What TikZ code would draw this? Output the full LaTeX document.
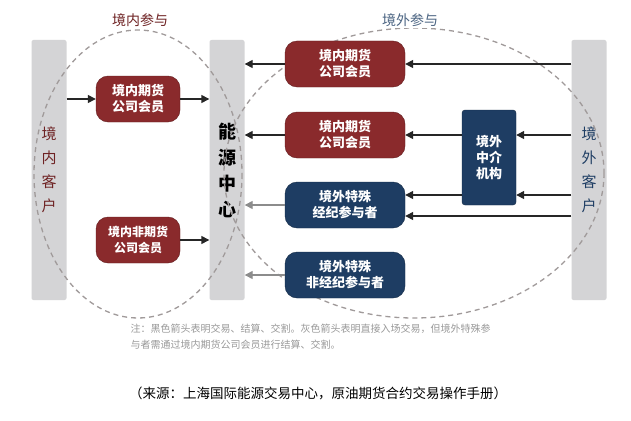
\documentclass[tikz,border=0pt]{standalone}
\usepackage{fontspec}
\setmainfont{Noto Sans CJK SC}
\usetikzlibrary{arrows.meta}
\definecolor{myred}{HTML}{8A2A2C}
\definecolor{myblue}{HTML}{1E3D63}
\definecolor{bargray}{HTML}{D4D4D6}
\definecolor{dashg}{HTML}{A09A9A}
\tikzset{
  bar/.style={fill=bargray,rounded corners=2pt,minimum width=35pt,minimum height=260pt,inner sep=0pt},
  rbox/.style={fill=myred,draw=myred!70!black,rounded corners=12pt,text=white,align=center,font=\fontsize{13}{16}\selectfont\bfseries,minimum width=84pt,minimum height=46pt,inner sep=2pt},
  bbox/.style={rbox,fill=myblue,draw=myblue!70!black},
  blk/.style={-{Triangle[length=8pt,width=8pt]},line width=1.4pt,black!85},
  gry/.style={-{Triangle[length=8pt,width=8pt]},line width=1.4pt,black!45},
  ell/.style={dash pattern=on 5pt off 4pt,draw=dashg,line width=1.3pt}
}
\begin{document}
\begin{tikzpicture}[x=1pt,y=-1pt]
\useasboundingbox (0,0) rectangle (631,420);
\fill[white] (0,0) rectangle (631,420);
\node[bar] (L) at (49,170) {};
\node[bar] (C) at (227,170) {};
\node[bar] (R) at (589,170) {};
\node[text=myred!80!black,align=center,font=\fontsize{15}{24}\selectfont] at (L) {境\\内\\客\\户};
\node[align=center,font=\fontsize{18}{26}\selectfont\bfseries] at (C) {能\\源\\中\\心};
\node[text=myblue,align=center,font=\fontsize{15}{24}\selectfont] at (R) {境\\外\\客\\户};
\draw[ell] (138,174) ellipse (104 and 144);
\draw[ell] (414,173) ellipse (190 and 145);
\node[text=myred!80!black,font=\fontsize{14}{16}\selectfont,fill=white,inner sep=1pt] at (140,20) {境内参与};
\node[text=myblue!80,font=\fontsize{14}{16}\selectfont,fill=white,inner sep=1pt] at (410,20) {境外参与};
\node[rbox] (d1) at (138,99) {境内期货\\公司会员};
\node[rbox,font=\fontsize{12}{16}\selectfont\bfseries] (d2) at (138,240) {境内非期货\\公司会员};
\node[rbox,minimum width=120pt] (f1) at (345,64) {境内期货\\公司会员};
\node[rbox,minimum width=120pt] (f2) at (345,135) {境内期货\\公司会员};
\node[bbox,minimum width=120pt] (f3) at (345,205) {境外特殊\\经纪参与者};
\node[bbox,minimum width=120pt] (f4) at (345,275) {境外特殊\\非经纪参与者};
\node[bbox,rounded corners=3pt,minimum width=54pt,minimum height=95pt] (m) at (489,157.5) {境外\\中介\\机构};
\draw[blk] (L.east|-d1) -- (d1);
\draw[blk] (d1) -- (C.west|-d1);
\draw[blk] (d2) -- (C.west|-d2);
\draw[blk] (R.west|-f1) -- (f1);
\draw[blk] (f1) -- (C.east|-f1);
\draw[blk] (R.west|-f2) -- (m.east|-f2);
\draw[blk] (m.west|-f2) -- (f2);
\draw[blk] (f2) -- (C.east|-f2);
\draw[blk] (R.west|-0,195) -- (m.east|-0,195);
\draw[blk] (m.west|-0,195) -- (f3.east|-0,195);
\draw[blk] (R.west|-0,216) -- (f3.east|-0,216);
\draw[gry] (f3) -- (C.east|-f3);
\draw[gry] (f4) -- (C.east|-f4);
\node[anchor=west,text=black!40,font=\fontsize{10}{16}\selectfont,align=left] (n) at (127,337) {注：黑色箭头表明交易、结算、交割。灰色箭头表明直接入场交易，但境外特殊参\\与者需通过境内期货公司会员进行结算、交割。};
\node[font=\fontsize{13.5}{15}\selectfont] (s) at (318,393) {（来源：上海国际能源交易中心，原油期货合约交易操作手册）};
\end{tikzpicture}
\end{document}
